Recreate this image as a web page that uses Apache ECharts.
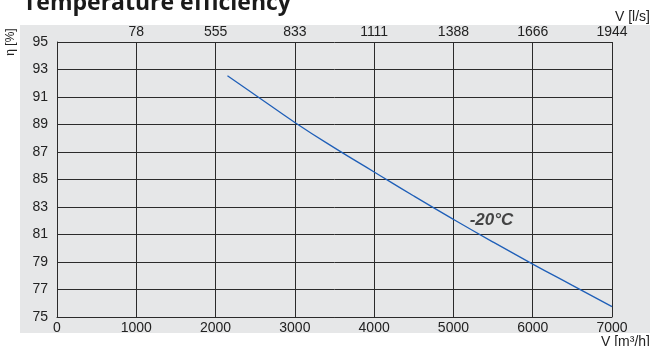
<!DOCTYPE html>
<html>
<head>
<meta charset="utf-8">
<script src="https://cdn.jsdelivr.net/npm/echarts@6/dist/echarts.min.js"></script>
<style>
html,body{margin:0;padding:0;background:#fff;}
#chart{width:650px;height:346px;}
</style>
</head>
<body>
<div id="chart"></div>
<script>
// ---- data ----
var flowM3h = [2150, 2500, 3000, 3500, 4000, 4500, 5000, 5500, 6000, 6500, 7000];
var efficiency = [92.55, 91.15, 89.15, 87.3, 85.55, 83.8, 82.1, 80.45, 78.85, 77.3, 75.75];
var topTickLabels = ['', '78', '555', '833', '1111', '1388', '1666', '1944'];
var seriesLabel = '-20°C';
var seriesLabelPos = [5480, 82.05];
var titleText = 'Temperature efficiency';
var yName = 'η [%]';
var topName = 'V [l/s]';
var bottomName = 'V [m³/h]';

var lineColor = '#2b2b2b';
var fontFam = '"Liberation Sans", Arial, sans-serif';

var chart = echarts.init(document.getElementById('chart'), null, {renderer: 'canvas'});
var points = flowM3h.map(function (x, i) { return [x, efficiency[i]]; });

var option = {
  animation: false,
  grid: {left: 57, right: 38, top: 42, bottom: 29, containLabel: false},
  graphic: [
    {type: 'rect', z: -100, shape: {x: 20, y: 25, width: 630, height: 308}, style: {fill: '#e6e7e8'}},
    {type: 'text', x: 23, y: 3, style: {text: titleText, font: 'bold 23px "Open Sans", sans-serif', fill: '#1a1a1a', verticalAlign: 'middle'}},
    {type: 'text', x: 650, y: 17, style: {text: topName, font: '14px ' + fontFam, fill: '#222', align: 'right', verticalAlign: 'middle'}},
    {type: 'text', x: 650, y: 342, style: {text: bottomName, font: '14px ' + fontFam, fill: '#222', align: 'right', verticalAlign: 'middle'}},
    {type: 'text', x: 11, y: 42, rotation: Math.PI / 2, style: {text: yName, font: '12px ' + fontFam, fill: '#222', align: 'center', verticalAlign: 'middle'}}
  ],
  xAxis: [
    {
      type: 'value', position: 'bottom', min: 0, max: 7000, interval: 1000,
      axisLine: {show: true, lineStyle: {color: lineColor, width: 1}},
      axisTick: {show: false},
      axisLabel: {fontSize: 14, color: '#222', fontFamily: fontFam, margin: 4,
        formatter: function (v) { return String(v); }},
      splitLine: {show: true, lineStyle: {color: lineColor, width: 1}}
    },
    {
      type: 'value', position: 'top', min: 0, max: 7000, interval: 1000,
      axisLine: {show: false},
      axisTick: {show: false},
      axisLabel: {fontSize: 14, color: '#222', fontFamily: fontFam, margin: 3,
        formatter: function (v) { return topTickLabels[Math.round(v / 1000)] || ''; }},
      splitLine: {show: false}
    }
  ],
  yAxis: {
    type: 'value', min: 75, max: 95, interval: 2,
    axisLine: {show: true, lineStyle: {color: lineColor, width: 1}},
    axisTick: {show: false},
    axisLabel: {fontSize: 14, color: '#222', fontFamily: fontFam, margin: 9},
    splitLine: {show: true, lineStyle: {color: lineColor, width: 1}}
  },
  series: [
    {
      type: 'line', data: points, smooth: true, showSymbol: false, symbol: 'none',
      lineStyle: {color: '#1f5fb8', width: 1.3}, z: 5
    },
    {
      type: 'scatter', data: [seriesLabelPos], symbolSize: 0, z: 6,
      label: {show: true, position: 'inside', formatter: seriesLabel,
        fontSize: 17, fontWeight: 'bold', fontStyle: 'italic', color: '#1a1a1a', fontFamily: fontFam}
    }
  ]
};
chart.setOption(option);
</script>
</body>
</html>
